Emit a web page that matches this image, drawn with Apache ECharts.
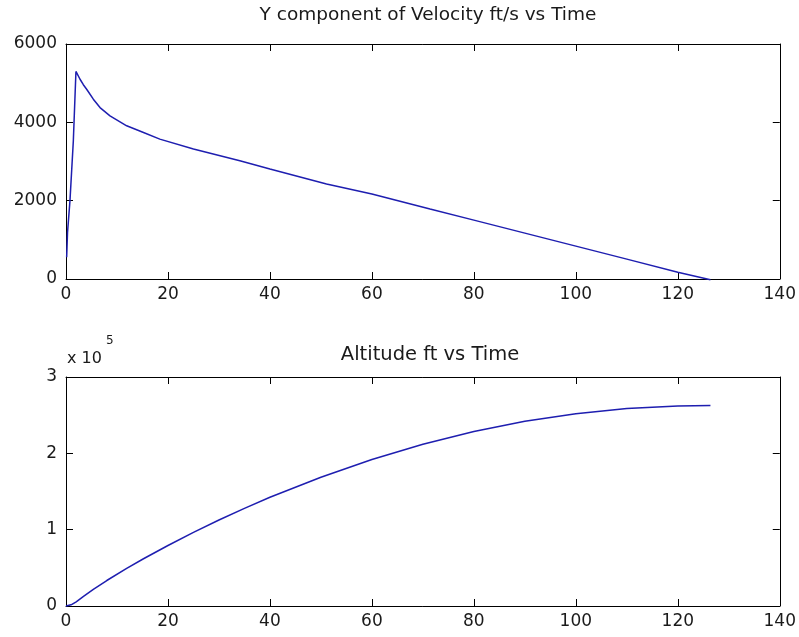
<!DOCTYPE html>
<html>
<head>
<meta charset="utf-8">
<script src="https://cdn.jsdelivr.net/npm/echarts@6/dist/echarts.min.js"></script>
<style>
html,body{margin:0;padding:0;background:#fff;}
#chart{width:799px;height:637px;}
</style>
</head>
<body>
<div id="chart"></div>
<script>
// Data
const velTime  = [0.13, 0.3, 0.78, 1.44, 1.95, 2.75, 3.4, 4.05, 5.36, 6.67, 8.63, 11.9, 15.2, 18.4, 25, 34.1, 40, 51.1, 60, 71.4, 80, 90, 100, 110, 120, 126.4];
const velValue = [555, 1190, 2000, 3530, 5300, 5100, 4960, 4845, 4591, 4377, 4166, 3911, 3740, 3572, 3317, 3019, 2807, 2425, 2170, 1788, 1503, 1171, 839, 507, 174, -20];

const altTime  = [0, 1, 2, 3.5, 5.36, 8, 11.9, 15.2, 20, 25, 30, 35, 40, 50, 60, 70, 80, 90, 100, 110, 120, 126.4];
const altValue = [0, 1500, 5450, 13000, 21900, 33400, 49300, 61900, 79300, 96400, 112600, 127900, 142400, 168700, 191900, 211900, 228600, 242000, 252000, 258700, 262100, 262600];

const xTicks = [0, 20, 40, 60, 80, 100, 120, 140];
const velTicks = [0, 2000, 4000, 6000];
const altTicks = [0, 1, 2, 3]; // x 10^5

const titles = ['Y component of Velocity ft/s vs Time', 'Altitude ft vs Time'];
const altExpLabel = 'x 10';
const altExp = '5';

const velData = velTime.map((t, i) => [t, velValue[i]]);
const altData = altTime.map((t, i) => [t, altValue[i]]);

const FONT = 'DejaVu Sans';
const TXT = '#1a1a1a';
const LINE = '#1e1eb0';

function xAxisDef(grid, pos, labels) {
  return {
    type: 'value', gridIndex: grid, position: pos,
    min: xTicks[0], max: xTicks[xTicks.length - 1], interval: xTicks[1] - xTicks[0],
    axisLine: {show: true, onZero: false, lineStyle: {color: '#000', width: 1}},
    axisTick: {show: true, inside: true, length: 7, lineStyle: {color: '#000'}},
    axisLabel: {show: labels, color: TXT, fontFamily: FONT, fontSize: 17, margin: 7},
    splitLine: {show: false}
  };
}
function yAxisDef(grid, pos, labels, ticks, scale) {
  return {
    type: 'value', gridIndex: grid, position: pos,
    min: ticks[0] * scale, max: ticks[ticks.length - 1] * scale, interval: (ticks[1] - ticks[0]) * scale,
    axisLine: {show: true, onZero: false, lineStyle: {color: '#000', width: 1}},
    axisTick: {show: true, inside: true, length: 7, lineStyle: {color: '#000'}},
    axisLabel: {show: labels, color: TXT, fontFamily: FONT, fontSize: 17, margin: 9,
      formatter: v => String(Math.round(v / scale * 1000) / 1000)},
    splitLine: {show: false}
  };
}

const chart = echarts.init(document.getElementById('chart'), null, {renderer: 'canvas'});
chart.setOption({
  backgroundColor: '#fff',
  animation: false,
  title: [
    {text: titles[0], left: 423, top: 1, textAlign: 'center',
     textStyle: {fontFamily: FONT, fontSize: 18.5, fontWeight: 'normal', color: TXT}},
    {text: titles[1], left: 425, top: 340, textAlign: 'center',
     textStyle: {fontFamily: FONT, fontSize: 19.5, fontWeight: 'normal', color: TXT}}
  ],
  grid: [
    {left: 66, top: 44, width: 714, height: 235},
    {left: 66, top: 377, width: 714, height: 229}
  ],
  xAxis: [
    xAxisDef(0, 'bottom', true), xAxisDef(0, 'top', false),
    xAxisDef(1, 'bottom', true), xAxisDef(1, 'top', false)
  ],
  yAxis: [
    yAxisDef(0, 'left', true, velTicks, 1), yAxisDef(0, 'right', false, velTicks, 1),
    yAxisDef(1, 'left', true, altTicks, 100000), yAxisDef(1, 'right', false, altTicks, 100000)
  ],
  graphic: [
    {type: 'text', left: 67, top: 351, style: {text: altExpLabel, font: '16px "DejaVu Sans"', fill: TXT}},
    {type: 'text', left: 106, top: 335, style: {text: altExp, font: '12px "DejaVu Sans"', fill: TXT}}
  ],
  series: [
    {type: 'line', xAxisIndex: 0, yAxisIndex: 0, data: velData, showSymbol: false,
     lineStyle: {color: LINE, width: 1.5}, clip: false},
    {type: 'line', xAxisIndex: 2, yAxisIndex: 2, data: altData, showSymbol: false,
     lineStyle: {color: LINE, width: 1.5}, clip: false}
  ]
});
</script>
</body>
</html>
